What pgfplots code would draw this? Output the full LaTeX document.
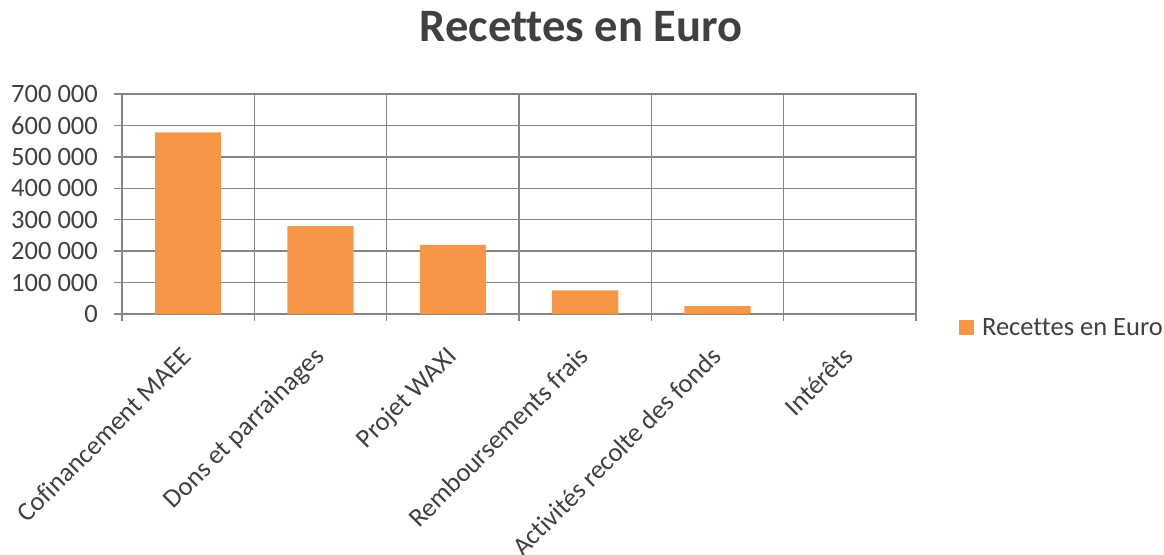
\documentclass[border=0pt]{standalone}
\usepackage{fontspec}
\setmainfont{Carlito}[Ligatures=NoCommon]
\usepackage{pgfplots}
\pgfplotsset{compat=1.18}
\definecolor{barorange}{HTML}{F79646}
\definecolor{gridgray}{RGB}{134,134,134}
\definecolor{txt}{HTML}{404040}
\begin{document}
\begin{tikzpicture}
\begin{axis}[
  name=ax,
  scale only axis, width=794bp, height=220bp,
  xmin=-0.5, xmax=5.5, ymin=0, ymax=700000,
  ybar, bar width=0.5,
  xtick={0,...,5},
  xticklabels={Cofinancement MAEE, Dons et parrainages, Projet WAXI, Remboursements frais, Activités recolte des fonds, Intérêts},
  minor xtick={-0.5,0.5,...,5.5},
  xminorgrids, ymajorgrids,
  ytick={0,100000,200000,300000,400000,500000,600000,700000},
  yticklabels={0,100 000,200 000,300 000,400 000,500 000,600 000,700 000},
  scaled y ticks=false,
  tick align=outside, xtick pos=bottom, ytick pos=left,
  major tick length=8bp, minor tick length=7bp,
  major x tick style={draw=none},
  tick style={gridgray, line width=1.5bp},
  grid style={gridgray, line width=1.5bp},
  minor grid style={gridgray, line width=1.5bp},
  axis line style={gridgray, line width=1.5bp},
  yticklabel style={font=\fontsize{26.5bp}{30bp}\selectfont, text=txt, inner sep=0pt, xshift=-16bp},
  xticklabel style={font=\fontsize{26.5bp}{30bp}\selectfont, text=txt, inner sep=0pt, xshift=5bp, yshift=-36bp, rotate=45, anchor=base east},
  title={Recettes en Euro},
  title style={font=\fontsize{46.5bp}{52bp}\selectfont\bfseries, text=txt, at={(0.578,1.2136)}, anchor=base, inner sep=0pt, yshift=0pt},
  legend entries={Recettes en Euro},
  legend style={at={(1.054,-0.0636)}, anchor=west, draw=none, fill=none, inner sep=0pt,
    font=\fontsize{26.5bp}{30bp}\selectfont, text=txt},
  legend image code/.code={\fill[barorange] (0bp,-7.5bp) rectangle (15bp,7.5bp); \path (21bp,0bp);},
]
\addplot[fill=barorange, draw=none] coordinates {(0,578000) (1,280000) (2,220000) (3,75000) (4,25000) (5,0)};
\end{axis}
\pgfresetboundingbox
\path ([xshift=-122bp,yshift=-241bp]ax.south west) rectangle ([xshift=1042bp,yshift=314bp]ax.south west);
\end{tikzpicture}
\end{document}
